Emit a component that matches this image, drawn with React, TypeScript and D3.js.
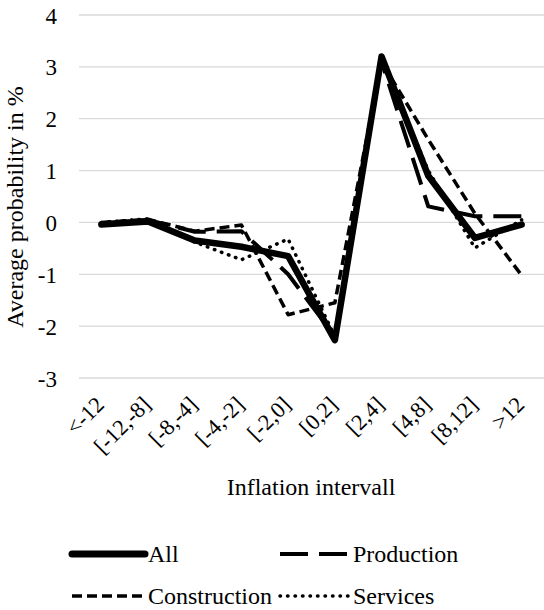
import { useEffect, useRef } from "react";
import * as d3 from "d3";

// inflation intervals on the x axis
const categories = ["<-12", "[-12,-8]", "[-8,-4]", "[-4,-2]", "[-2,0]", "[0,2]", "[2,4]", "[4,8]", "[8,12]", ">12"];

// average probability in % per interval
const allValues = [-0.04, 0.02, -0.35, -0.47, -0.65, -2.27, 3.2, 0.9, -0.3, -0.04];
const productionValues = [-0.02, 0.05, -0.18, -0.17, -1.0, -2.2, 3.1, 0.31, 0.12, 0.12];
const constructionValues = [0.0, 0.06, -0.17, -0.05, -1.78, -1.55, 3.1, 1.6, 0.17, -1.02];
const servicesValues = [0.0, 0.07, -0.38, -0.72, -0.32, -2.2, 3.15, 1.0, -0.49, 0.05];

const yTicks = [-3, -2, -1, 0, 1, 2, 3, 4];

const width = 544;
const height = 610;
const font = "Liberation Serif, DejaVu Serif, Times New Roman, serif";

const series = [
  { name: "All", values: allValues, strokeWidth: 6.5, dash: null as string | null, cap: "round" },
  { name: "Production", values: productionValues, strokeWidth: 4, dash: "28 11", cap: "butt" },
  { name: "Construction", values: constructionValues, strokeWidth: 3.5, dash: "10 5", cap: "butt" },
  { name: "Services", values: servicesValues, strokeWidth: 3.5, dash: "0.5 7", cap: "round" },
];

function drawChart(svg: any) {
  const x = d3.scaleBand().domain(categories).range([78, 545]).padding(0);
  const y = d3.scaleLinear().domain([-3, 4]).range([378, 15]);
  const cx = (c: string) => (x(c) as number) + x.bandwidth() / 2;

  // gridlines
  svg
    .append("g")
    .selectAll("line")
    .data(yTicks)
    .join("line")
    .attr("x1", 79)
    .attr("x2", 544)
    .attr("y1", (d: number) => y(d))
    .attr("y2", (d: number) => y(d))
    .attr("stroke", "#d9d9d9")
    .attr("stroke-width", 1.3);

  // y tick labels
  svg
    .append("g")
    .selectAll("text")
    .data(yTicks)
    .join("text")
    .attr("x", 57)
    .attr("y", (d: number) => y(d) + 8.5)
    .attr("text-anchor", "end")
    .attr("font-family", font)
    .attr("font-size", 23)
    .text((d: number) => String(d));

  // y axis title
  svg
    .append("text")
    .attr("transform", "translate(23,207) rotate(-90)")
    .attr("text-anchor", "middle")
    .attr("font-family", font)
    .attr("font-size", 24)
    .text("Average probability in %");

  // x tick labels, rotated
  svg
    .append("g")
    .selectAll("text")
    .data(categories)
    .join("text")
    .attr("transform", (d: string) => "translate(" + (cx(d) + 4) + ",406) rotate(-45)")
    .attr("text-anchor", "end")
    .attr("font-family", font)
    .attr("font-size", 22.5)
    .text((d: string) => d);

  // x axis title
  svg
    .append("text")
    .attr("x", 311)
    .attr("y", 495)
    .attr("text-anchor", "middle")
    .attr("font-family", font)
    .attr("font-size", 24)
    .text("Inflation intervall");

  // the lines
  const line = d3
    .line<number>()
    .x((_d, i) => cx(categories[i]))
    .y((d) => y(d));

  series.forEach((s) => {
    svg
      .append("path")
      .datum(s.values)
      .attr("fill", "none")
      .attr("stroke", "black")
      .attr("stroke-width", s.strokeWidth)
      .attr("stroke-linejoin", "round")
      .attr("stroke-linecap", s.cap)
      .attr("stroke-dasharray", s.dash)
      .attr("d", line);
  });

  // legend, 2 x 2
  const legendPos = [
    { lx: 72, ly: 554, tx: 148, ty: 562 },
    { lx: 280, ly: 554, tx: 353, ty: 562 },
    { lx: 72, ly: 596, tx: 148, ty: 604 },
    { lx: 280, ly: 596, tx: 353, ty: 604 },
  ];
  const legend = svg.append("g");
  series.forEach((s, i) => {
    const p = legendPos[i];
    legend
      .append("line")
      .attr("x1", p.lx)
      .attr("x2", p.lx + (i % 2 === 0 ? 73 : 68))
      .attr("y1", p.ly)
      .attr("y2", p.ly)
      .attr("stroke", "black")
      .attr("stroke-width", i === 0 ? 7 : s.strokeWidth)
      .attr("stroke-linecap", s.cap)
      .attr("stroke-dasharray", s.dash);
    legend
      .append("text")
      .attr("x", p.tx)
      .attr("y", p.ty)
      .attr("font-family", font)
      .attr("font-size", 24)
      .text(s.name);
  });
}

export default function App() {
  const ref = useRef<SVGSVGElement>(null);

  useEffect(() => {
    const svg = d3.select(ref.current);
    svg.selectAll("*").remove();
    drawChart(svg);
  }, []);

  return (
    <div style={{ position: "absolute", left: 0, top: 0 }}>
      <svg ref={ref} width={width} height={height} style={{ background: "white", display: "block" }}></svg>
    </div>
  );
}
